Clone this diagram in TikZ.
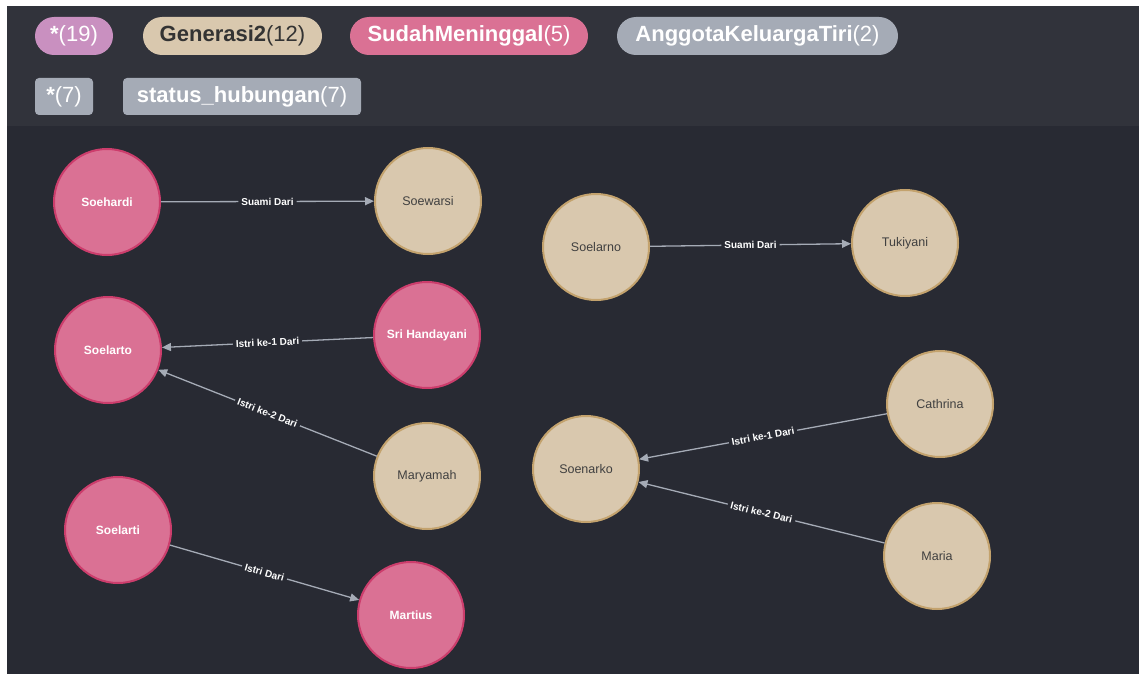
\documentclass[tikz,border=0pt]{standalone}
\usepackage{fontspec}
\setmainfont{Liberation Sans}
\usepackage{xcolor}
\usetikzlibrary{arrows.meta, positioning}

\definecolor{panel}{HTML}{31333B}
\definecolor{canvas}{HTML}{282A33}
\definecolor{deceased}{HTML}{DA7194}
\definecolor{deceasedline}{HTML}{CC3D6C}
\definecolor{gen}{HTML}{D9C8AE}
\definecolor{genline}{HTML}{C3A26D}
\definecolor{relgray}{HTML}{A5ABB6}
\definecolor{allpurple}{HTML}{C990C0}

\begin{document}
\begin{tikzpicture}[
  x=1pt, y=-1pt,
  person/.style={circle, minimum size=106pt, inner sep=0pt, line width=2pt},
  dead/.style={person, draw=deceasedline, fill=deceased, text=white, font=\fontsize{12}{14}\selectfont\bfseries},
  gen2/.style={person, draw=genline, fill=gen, text=black!75, font=\fontsize{12.5}{14}\selectfont},
  rel/.style={-{Triangle[length=9pt,width=8pt]}, draw=relgray, line width=1.3pt},
  caption/.style={midway, sloped, fill=canvas, text=white, inner xsep=3pt, inner ysep=1pt, font=\fontsize{10}{12}\selectfont\bfseries},
  pill/.style={rounded corners=19pt, minimum height=38pt, inner sep=0pt, font=\fontsize{22}{26}\selectfont},
  tag/.style={rounded corners=4pt, minimum height=37pt, inner sep=0pt, fill=relgray, text=white, font=\fontsize{22}{26}\selectfont}
]
\useasboundingbox (0,0) rectangle (1139,674);
\fill[white] (0,0) rectangle (1139,674);
\fill[canvas] (7,6) rectangle (1139,674);
\fill[panel] (7,6) rectangle (1139,126);

% labels and relationship types
\node[pill, fill=allpurple, text=white, minimum width=78pt] (allnodes) at (74,36) {\textbf{*}(19)};
\node[pill, fill=gen, text=black!80, minimum width=179pt] (lblgen) at (232.5,36) {\textbf{Generasi2}(12)};
\node[pill, fill=deceased, text=white, minimum width=238pt] (lbldead) at (469,36) {\textbf{SudahMeninggal}(5)};
\node[pill, fill=relgray, text=white, minimum width=281pt] (lblstep) at (757.5,36) {\textbf{AnggotaKeluargaTiri}(2)};
\node[tag, minimum width=58pt] (allrels) at (64,96.5) {\textbf{*}(7)};
\node[tag, minimum width=238pt] (reltype) at (242,96.5) {\textbf{status\_hubungan}(7)};

% people
\node[dead] (soehardi) at (107,202) {Soehardi};
\node[gen2] (soewarsi) at (428,201) {Soewarsi};
\node[dead] (soelarto) at (108,350) {Soelarto};
\node[dead] (handayani) at (427,335) {Sri Handayani};
\node[gen2] (maryamah) at (427,476) {Maryamah};
\node[dead] (soelarti) at (118,530) {Soelarti};
\node[dead] (martius) at (411,615) {Martius};
\node[gen2] (soelarno) at (596,247) {Soelarno};
\node[gen2] (tukiyani) at (905,243) {Tukiyani};
\node[gen2] (soenarko) at (586,469) {Soenarko};
\node[gen2] (cathrina) at (940,404) {Cathrina};
\node[gen2] (maria) at (937,556) {Maria};

% relationships
\draw[rel] (soehardi) -- node[caption] {Suami Dari} (soewarsi);
\draw[rel] (handayani) -- node[caption] {Istri ke-1 Dari} (soelarto);
\draw[rel] (maryamah) -- node[caption] {Istri ke-2 Dari} (soelarto);
\draw[rel] (soelarti) -- node[caption] {Istri Dari} (martius);
\draw[rel] (soelarno) -- node[caption] {Suami Dari} (tukiyani);
\draw[rel] (cathrina) -- node[caption] {Istri ke-1 Dari} (soenarko);
\draw[rel] (maria) -- node[caption] {Istri ke-2 Dari} (soenarko);
\end{tikzpicture}
\end{document}
